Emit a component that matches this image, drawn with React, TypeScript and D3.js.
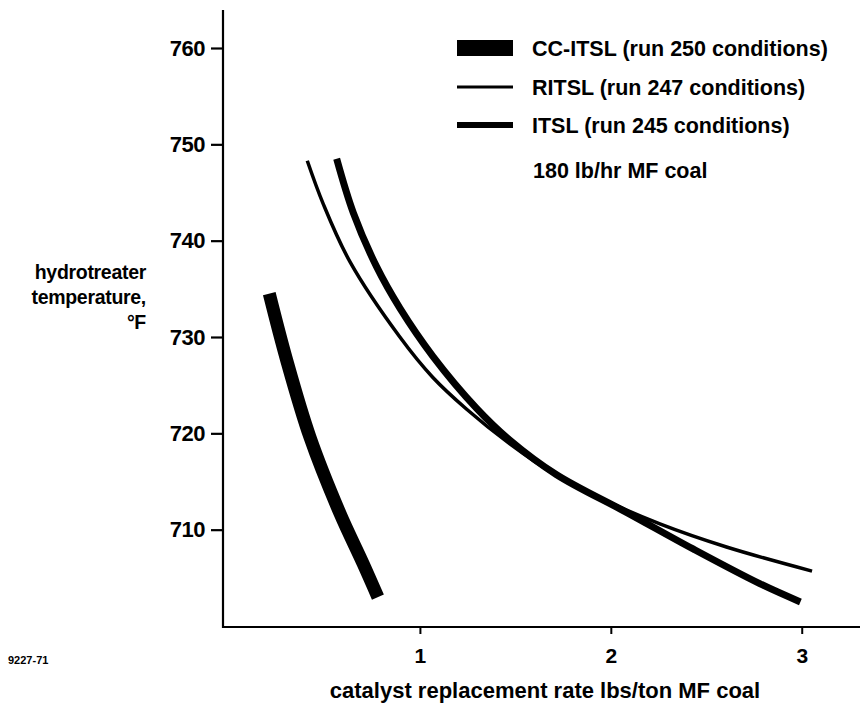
import { useEffect, useRef } from "react";
import * as d3 from "d3";

// catalyst replacement rate (lbs/ton MF coal) vs hydrotreater temperature (°F)
const ccRate = [0.211, 0.302, 0.424, 0.581, 0.702, 0.78];
const ccTemp = [734.5, 727.6, 719.6, 711.7, 706.5, 703.0];

const ritslRate = [0.41, 0.494, 0.634, 0.895, 1.068, 1.245, 1.471, 1.716, 1.942, 2.257, 2.606, 3.054];
const ritslTemp = [748.3, 743.8, 737.8, 730.0, 725.8, 722.5, 718.9, 715.6, 713.3, 710.6, 708.2, 705.7];

const itslRate = [0.564, 0.651, 0.773, 0.895, 1.068, 1.297, 1.471, 1.716, 2.082, 2.431, 2.78, 2.993];
const itslTemp = [748.5, 742.9, 737.3, 733.0, 728.0, 722.6, 719.3, 715.7, 711.8, 708.0, 704.4, 702.5];

const xTicks = [1, 2, 3];
const yTicks = [710, 720, 730, 740, 750, 760];

const legendLabels = [
  "CC-ITSL (run 250 conditions)",
  "RITSL (run 247 conditions)",
  "ITSL (run 245 conditions)",
];
const legendWidths = [16, 3, 6];
const lineWidths = [13, 3.5, 7];
const note = "180 lb/hr MF coal";

const FONT = "'Liberation Sans', Arial, Helvetica, sans-serif";

export default function App() {
  const ref = useRef<SVGSVGElement | null>(null);

  useEffect(() => {
    if (!ref.current) return;
    const width = 860;
    const height = 704;
    const axisX = 223;
    const axisY = 627;

    const svg = d3.select(ref.current);
    svg.selectAll("*").remove();
    svg.attr("viewBox", `0 0 ${width} ${height}`);
    svg.append("rect").attr("width", width).attr("height", height).attr("fill", "#fff");

    const x = d3.scaleLinear().domain([0, 3.3]).range([229, 859]);
    const y = d3.scaleLinear().domain([700, 760]).range([626, 48]);

    // axes lines
    svg
      .append("line")
      .attr("x1", axisX)
      .attr("x2", axisX)
      .attr("y1", 10)
      .attr("y2", axisY + 1)
      .attr("stroke", "#000")
      .attr("stroke-width", 2.2);
    svg
      .append("line")
      .attr("x1", axisX - 1)
      .attr("x2", width)
      .attr("y1", axisY)
      .attr("y2", axisY)
      .attr("stroke", "#000")
      .attr("stroke-width", 2.2);

    const yAxis = svg
      .append("g")
      .attr("transform", `translate(${axisX},0)`)
      .call(d3.axisLeft(y).tickValues(yTicks).tickSize(12).tickPadding(6).tickFormat((d) => String(d)));
    yAxis.select(".domain").remove();
    yAxis.selectAll("line").attr("stroke", "#000").attr("stroke-width", 2.2);
    yAxis
      .selectAll("text")
      .attr("font-family", FONT)
      .attr("font-weight", "bold")
      .attr("font-size", 22)
      .attr("letter-spacing", -0.5)
      .attr("fill", "#000");

    const xAxis = svg
      .append("g")
      .attr("transform", `translate(0,${axisY})`)
      .call(d3.axisBottom(x).tickValues(xTicks).tickSize(7).tickPadding(14).tickFormat((d) => String(d)));
    xAxis.select(".domain").remove();
    xAxis.selectAll("line").attr("stroke", "#000").attr("stroke-width", 2);
    xAxis
      .selectAll("text")
      .attr("font-family", FONT)
      .attr("font-weight", "bold")
      .attr("font-size", 21)
      .attr("fill", "#000");

    const line = d3
      .line<[number, number]>()
      .x((d) => x(d[0]))
      .y((d) => y(d[1]))
      .curve(d3.curveCatmullRom.alpha(0.5));

    const series: [number[], number[]][] = [
      [ccRate, ccTemp],
      [ritslRate, ritslTemp],
      [itslRate, itslTemp],
    ];
    series.forEach(([xs, ys], i) => {
      const pts = xs.map((v, j) => [v, ys[j]] as [number, number]);
      svg
        .append("path")
        .datum(pts)
        .attr("fill", "none")
        .attr("stroke", "#000")
        .attr("stroke-width", lineWidths[i])
        .attr("stroke-linecap", "butt")
        .attr("d", line);
    });

    // legend
    const legend = svg.append("g").attr("transform", "translate(457,0)");
    const rowY = [48, 87, 125];
    legendLabels.forEach((lab, i) => {
      legend
        .append("line")
        .attr("x1", 0)
        .attr("x2", 56)
        .attr("y1", rowY[i])
        .attr("y2", rowY[i])
        .attr("stroke", "#000")
        .attr("stroke-width", legendWidths[i]);
      legend
        .append("text")
        .attr("x", 75)
        .attr("y", rowY[i] + 8)
        .attr("font-family", FONT)
        .attr("font-weight", "bold")
        .attr("font-size", 21.5)
        .attr("fill", "#000")
        .text(lab);
    });
    legend
      .append("text")
      .attr("x", 76)
      .attr("y", 178)
      .attr("font-family", FONT)
      .attr("font-weight", "bold")
      .attr("font-size", 21.5)
      .attr("fill", "#000")
      .text(note);

    // axis titles
    svg
      .append("text")
      .attr("x", 545)
      .attr("y", 698)
      .attr("text-anchor", "middle")
      .attr("font-family", FONT)
      .attr("font-weight", "bold")
      .attr("font-size", 22)
      .attr("fill", "#000")
      .text("catalyst replacement rate lbs/ton MF coal");

    const yTitle = ["hydrotreater", "temperature,", "°F"];
    yTitle.forEach((t, i) => {
      svg
        .append("text")
        .attr("x", 146)
        .attr("y", 279 + i * 25)
        .attr("text-anchor", "end")
        .attr("font-family", FONT)
        .attr("font-weight", "bold")
        .attr("font-size", 19.5)
        .attr("letter-spacing", -0.3)
        .attr("fill", "#000")
        .text(t);
    });

    svg
      .append("text")
      .attr("x", 8)
      .attr("y", 664)
      .attr("font-family", FONT)
      .attr("font-weight", "bold")
      .attr("font-size", 11)
      .attr("fill", "#000")
      .text("9227-71");
  }, []);

  return (
    <svg
      ref={ref}
      width={860}
      height={704}
      role="img"
      aria-label="Hydrotreater temperature vs catalyst replacement rate"
      style={{ position: "absolute", left: 0, top: 0, display: "block" }}
    />
  );
}
